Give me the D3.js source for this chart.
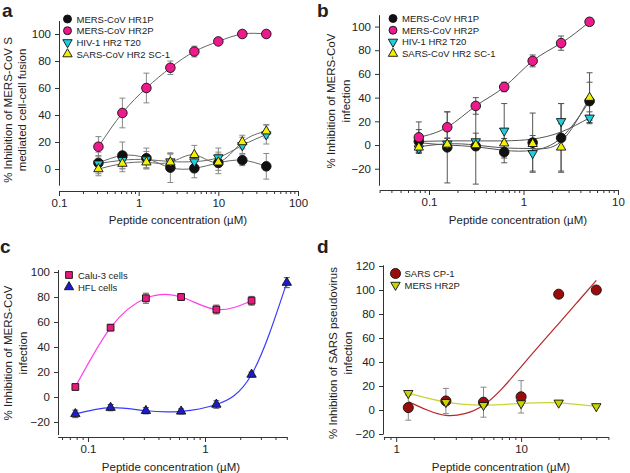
<!DOCTYPE html>
<html><head><meta charset="utf-8">
<script src="https://cdn.jsdelivr.net/npm/d3@7"></script>
<style>
body{margin:0;background:#fff}
svg{display:block}
text{font-family:Arial,"Liberation Sans",Helvetica,sans-serif;fill:#222}
</style>
</head><body>
<svg id="chart" width="630" height="473"></svg>
<script>
// ---------- Panel a data ----------
const aConc = [0.3125, 0.625, 1.25, 2.5, 5, 10, 20, 40];
const aHR1P = [4.5, 10, 8, 1, 0.5, 4.5, 6.5, 2];
const aHR1PErr = [8, 10, 7.5, 11, 7, 8, 4, 9.5];
const aHR2P = [16.5, 41.5, 60, 75, 87, 94.5, 100, 100];
const aHR2PErr = [7.5, 11, 11, 5, 4, 2, 1, 1];
const aT20 = [4, 6.5, 7, 5.5, 5.5, 8.5, 17.5, 25.5];
const aT20Err = [6, 6, 6, 6, 6, 7, 6, 7];
const aSC1 = [0, 4, 5, 5, 10.5, 5, 20, 28];
const aSC1Err = [5, 6, 5, 6, 7, 6, 5, 5];
const aXTicks = [0.1, 1, 10, 100];
const aYTicks = [0, 20, 40, 60, 80, 100];

// ---------- Panel b data ----------
const bConc = [0.078, 0.156, 0.3125, 0.625, 1.25, 2.5, 5];
const bHR1P = [3, -2, -1, -6, 2, 6, 37];
const bHR1PErr = [10, 30, 32, 9, 25, 29, 16];
const bHR2P = [6.5, 15, 33, 49, 71, 86, 104];
const bHR2PErr = [13, 13, 7, 4, 5, 6, 3];
const bT20 = [-3, 1, 3, 12, -7, 20, 23];
const bT20Err = [3, 5, 7, 23, 15, 15, 5];
const bSC1 = [-2, 0.5, 0, 1.5, 1, -2, 40];
const bSC1Err = [3, 5, 4, 4, 4, 20, 21];
const bHR1PFit = [2, 0, -1.5, -4.5, -4.5, 6, 37];
const bT20Fit = [3, 3.5, 3.5, 3.5, 5, 11, 23];
const bSC1Fit = [-1.5, 1, 0, -2.5, -3, 3, 40];
const bXTicks = [0.1, 1, 10];
const bYTicks = [-20, 0, 20, 40, 60, 80, 100];

// ---------- Panel c data ----------
const cConcCalu = [0.078, 0.156, 0.3125, 0.625, 1.25, 2.5];
const cCalu = [8, 55.5, 79, 80, 70, 77];
const cCaluErr = [1.5, 2.5, 4, 2.5, 3.5, 3.5];
const cConcHFL = [0.078, 0.156, 0.3125, 0.625, 1.25, 2.5, 5];
const cHFL = [-13.5, -8.5, -11, -11.5, -6, 18, 91.5];
const cHFLErr = [3, 2.5, 2.5, 2, 3, 2, 4];
const cXTicks = [0.1, 1];
const cYTicks = [-20, 0, 20, 40, 60, 80, 100];

// ---------- Panel d data ----------
const dConc = [1.25, 2.5, 5, 10, 20, 40];
const dCP1 = [2, 7.5, 6.5, 11, 96.5, 100];
const dCP1Err = [10.5, 10.5, 12.5, 13.5, 0, 0];
const dHR2P = [14, 6.5, 4, 5.5, 6, 3];
const dHR2PErr = [1.5, 1.5, 1.5, 1.5, 1, 1];
const dFitConc = [1.25, 1.77, 2.5, 3.54, 5, 7.07, 10, 14.1, 20, 28.3, 40];
const dCP1Fit = [7, 0, -4.5, -3, 4, 18, 36, 54, 72, 90, 108];
const dXTicks = [1, 10];
const dYTicks = [-20, 0, 20, 40, 60, 80, 100, 120];

const svg = d3.select('#chart');
const FONT = 'Arial,"Liberation Sans",Helvetica,sans-serif';

function minorTicks(domain) {
  const out = [];
  const lo = Math.floor(Math.log10(domain[0])), hi = Math.ceil(Math.log10(domain[1]));
  for (let e = lo; e <= hi; e++) for (let k = 2; k <= 9; k++) {
    const v = k * Math.pow(10, e);
    if (v >= domain[0] * 0.999 && v <= domain[1] * 1.001) out.push(v);
  }
  return out;
}

const symbols = {
  circle: d3.symbol().type(d3.symbolCircle).size(72),
  tri: d3.symbol().type(d3.symbolTriangle).size(38),
  square: d3.symbol().type(d3.symbolSquare).size(46),
  circleD: d3.symbol().type(d3.symbolCircle).size(80)
};

function panel(cfg) {
  const g = svg.append('g');
  const x = d3.scaleLog().domain(cfg.xDomain).range(cfg.xRange);
  const y = d3.scaleLinear().domain(cfg.yDomain).range(cfg.yRange);

  // axes
  g.append('g').attr('transform', `translate(0,${cfg.xAxisY})`)
    .call(d3.axisBottom(x).tickValues(cfg.xTicks).tickFormat(d => String(d)).tickSize(5).tickSizeOuter(0).tickPadding(3));
  g.append('g').attr('transform', `translate(0,${cfg.xAxisY})`)
    .call(d3.axisBottom(x).tickValues(minorTicks(cfg.xDomain)).tickFormat('').tickSize(3).tickSizeOuter(0))
    .select('.domain').remove();
  g.append('g').attr('transform', `translate(${cfg.yAxisX},0)`)
    .call(d3.axisLeft(y).tickValues(cfg.yTicks).tickFormat(d3.format('d')).tickSize(4).tickSizeOuter(0).tickPadding(4));
  g.selectAll('.tick line, .domain').attr('stroke', '#333');
  g.selectAll('.tick text').attr('font-size', 11.5).attr('font-family', FONT).attr('fill', '#222');

  // titles
  g.append('text').attr('x', cfg.xTitleX).attr('y', cfg.xTitleY).attr('text-anchor', 'middle')
    .attr('font-size', 11.5).text('Peptide concentration (\u00b5M)');
  cfg.yTitle.forEach((t, i) => {
    g.append('text').attr('transform', `translate(${cfg.yTitleX[i]},${cfg.yTitleY}) rotate(-90)`)
      .attr('text-anchor', 'middle').attr('font-size', 11.5).text(t);
  });
  g.append('text').attr('x', cfg.letterX).attr('y', cfg.letterY).attr('font-size', 19)
    .attr('font-weight', 'bold').attr('fill', '#000').text(cfg.letter);

  // lines
  cfg.lines.forEach(l => {
    const pts = l.xs.map((c, i) => [x(c), y(l.ys[i])]);
    g.append('path').attr('d', d3.line().curve(d3.curveNatural)(pts))
      .attr('fill', 'none').attr('stroke', l.color).attr('stroke-width', l.width || 1);
  });

  // error bars
  cfg.series.forEach(s => {
    s.xs.forEach((c, i) => {
      const e = s.err[i];
      if (!e) return;
      const px = x(c), y1 = y(s.ys[i] + e), y2 = y(s.ys[i] - e);
      const eb = g.append('g').attr('stroke', cfg.errColor).attr('stroke-width', 1);
      eb.append('line').attr('x1', px).attr('x2', px).attr('y1', y1).attr('y2', y2);
      eb.append('line').attr('x1', px - 3).attr('x2', px + 3).attr('y1', y1).attr('y2', y1);
      eb.append('line').attr('x1', px - 3).attr('x2', px + 3).attr('y1', y2).attr('y2', y2);
    });
  });

  // markers
  cfg.series.forEach(s => {
    s.xs.forEach((c, i) => {
      g.append('path').attr('d', symbols[s.shape]())
        .attr('transform', `translate(${x(c)},${y(s.ys[i])})${s.down ? ' rotate(180)' : ''}`)
        .attr('fill', s.fill).attr('stroke', '#111').attr('stroke-width', 0.9);
    });
  });

  // legend
  cfg.series.filter(s => s.label).forEach((s, i) => {
    const ly = cfg.legY + i * cfg.legDy;
    g.append('path').attr('d', s.shape === 'circleD' ? symbols.circleD() : (s.shape === 'circle' ? d3.symbol().type(d3.symbolCircle).size(50)() : symbols[s.shape]()))
      .attr('transform', `translate(${cfg.legX},${ly})${s.down ? ' rotate(180)' : ''}`)
      .attr('fill', s.fill).attr('stroke', '#111').attr('stroke-width', 0.9);
    g.append('text').attr('x', cfg.legX + 9).attr('y', ly + 3.5).attr('font-size', 9.5).text(s.label);
  });
}

const PINK = '#ec1a8a', CYAN = '#1fd0dc', YEL = '#f4ee00', BLK = '#111';

panel({
  letter: 'a', letterX: 2, letterY: 17,
  xDomain: [0.1, 100], xRange: [59, 298], xAxisY: 191, xTicks: aXTicks,
  yDomain: [-12, 110], yRange: [185.2, 20.5], yAxisX: 59, yTicks: aYTicks,
  xTitleX: 178, xTitleY: 224,
  yTitle: ['% Inhibition of MERS-CoV S', 'mediated cell-cell fusion'], yTitleX: [12, 26], yTitleY: 110,
  errColor: '#888',
  lines: [
    {xs: aConc, ys: aHR2P, color: '#666'},
    {xs: aConc, ys: aHR1P, color: '#666'},
    {xs: aConc, ys: aT20, color: '#666'},
    {xs: aConc, ys: aSC1, color: '#666'}
  ],
  series: [
    {label: 'MERS-CoV HR1P', xs: aConc, ys: aHR1P, err: aHR1PErr, shape: 'circle', fill: BLK},
    {label: 'MERS-CoV HR2P', xs: aConc, ys: aHR2P, err: aHR2PErr, shape: 'circle', fill: PINK},
    {label: 'HIV-1 HR2 T20', xs: aConc, ys: aT20, err: aT20Err, shape: 'tri', down: true, fill: CYAN},
    {label: 'SARS-CoV HR2 SC-1', xs: aConc, ys: aSC1, err: aSC1Err, shape: 'tri', fill: YEL}
  ],
  legX: 67.5, legY: 19, legDy: 11.7
});

panel({
  letter: 'b', letterX: 317, letterY: 17,
  xDomain: [0.03, 10], xRange: [379.6, 618], xAxisY: 190, xTicks: bXTicks,
  yDomain: [-34, 110], yRange: [185.3, 14.7], yAxisX: 379, yTicks: bYTicks,
  xTitleX: 518, xTitleY: 224,
  yTitle: ['% Inhibition of MERS-CoV', 'infection'], yTitleX: [335, 350], yTitleY: 101,
  errColor: '#555',
  lines: [
    {xs: bConc, ys: bHR2P, color: '#555'},
    {xs: bConc, ys: bHR1PFit, color: '#555'},
    {xs: bConc, ys: bT20Fit, color: '#555'},
    {xs: bConc, ys: bSC1Fit, color: '#555'}
  ],
  series: [
    {label: 'MERS-CoV HR1P', xs: bConc, ys: bHR1P, err: bHR1PErr, shape: 'circle', fill: BLK},
    {label: 'MERS-CoV HR2P', xs: bConc, ys: bHR2P, err: bHR2PErr, shape: 'circle', fill: PINK},
    {label: 'HIV-1 HR2 T20', xs: bConc, ys: bT20, err: bT20Err, shape: 'tri', down: true, fill: CYAN},
    {label: 'SARS-CoV HR2 SC-1', xs: bConc, ys: bSC1, err: bSC1Err, shape: 'tri', fill: YEL}
  ],
  legX: 393, legY: 18.5, legDy: 11.7
});

panel({
  letter: 'c', letterX: 0, letterY: 253,
  xDomain: [0.055, 5], xRange: [57.6, 286.8], xAxisY: 437, xTicks: cXTicks,
  yDomain: [-30, 102], yRange: [434.5, 269.5], yAxisX: 58, yTicks: cYTicks,
  xTitleX: 171, xTitleY: 471,
  yTitle: ['% Inhibition of MERS-CoV', 'infection'], yTitleX: [12, 27], yTitleY: 353,
  errColor: '#555',
  lines: [
    {xs: cConcCalu, ys: cCalu, color: '#ff3ee8', width: 1.2},
    {xs: cConcHFL, ys: cHFL, color: '#3a3aff', width: 1.2}
  ],
  series: [
    {label: 'Calu-3 cells', xs: cConcCalu, ys: cCalu, err: cCaluErr, shape: 'square', fill: '#e8197d'},
    {label: 'HFL cells', xs: cConcHFL, ys: cHFL, err: cHFLErr, shape: 'tri', fill: '#1c1ccc'}
  ],
  legX: 69, legY: 275, legDy: 12
});

panel({
  letter: 'd', letterX: 317, letterY: 253,
  xDomain: [0.79, 50], xRange: [383.4, 608.4], xAxisY: 437, xTicks: dXTicks,
  yDomain: [-20, 121], yRange: [434, 264.8], yAxisX: 383, yTicks: dYTicks,
  xTitleX: 501, xTitleY: 471,
  yTitle: ['% Inhibition of SARS pseudovirus', 'infection'], yTitleX: [337, 352], yTitleY: 353,
  errColor: '#888',
  lines: [
    {xs: dConc, ys: dHR2P, color: '#c8d43a', width: 1.3},
    {xs: dFitConc, ys: dCP1Fit, color: '#b52828', width: 1.2}
  ],
  series: [
    {label: 'SARS CP-1', xs: dConc, ys: dCP1, err: dCP1Err, shape: 'circleD', fill: '#9a0c0c'},
    {label: 'MERS HR2P', xs: dConc, ys: dHR2P, err: dHR2PErr, shape: 'tri', down: true, fill: '#c8d400'}
  ],
  legX: 395.5, legY: 273.5, legDy: 11.5
});
</script>
</body></html>
